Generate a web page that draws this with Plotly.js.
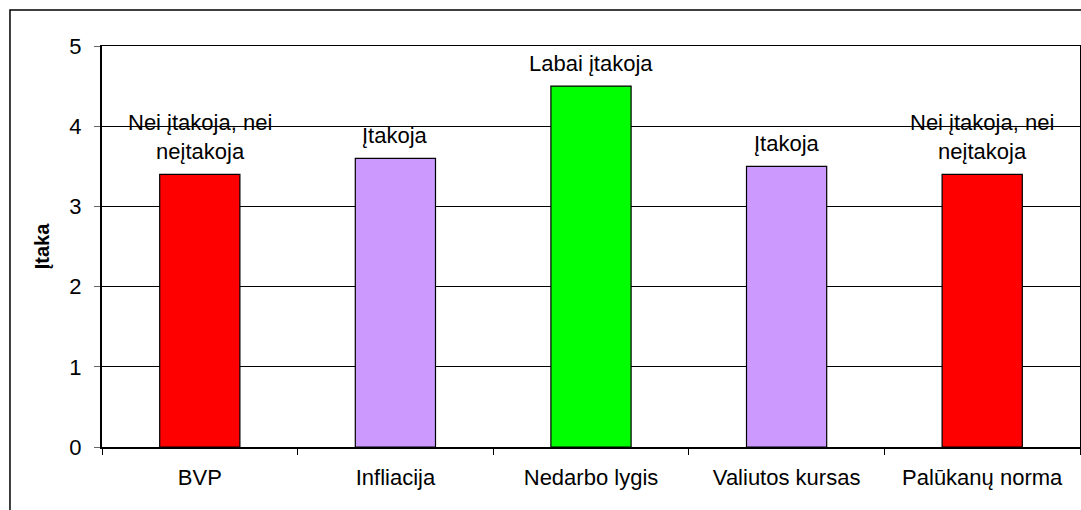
<!DOCTYPE html>
<html>
<head>
<meta charset="utf-8">
<script src="https://cdn.plot.ly/plotly-3.0.1.min.js"></script>
<style>html,body{margin:0;padding:0;background:#fff;}#chart{width:1081px;height:510px;}</style>
</head>
<body>
<div id="chart"></div>
<script>
var categories = ["BVP", "Infliacija", "Nedarbo lygis", "Valiutos kursas", "Palūkanų norma"];
var values = [3.4, 3.6, 4.5, 3.5, 3.4];
var barLabels = ["Nei įtakoja, nei<br>neįtakoja", "Įtakoja", "Labai įtakoja", "Įtakoja", "Nei įtakoja, nei<br>neįtakoja"];
var barColors = ["#FF0000", "#CC99FF", "#00FF00", "#CC99FF", "#FF0000"];
var yTicks = [0, 1, 2, 3, 4, 5];
var yTitle = "Įtaka";

var font = "Liberation Sans, Arial, sans-serif";

var trace = {
  type: "bar",
  x: categories,
  y: values,
  marker: {color: barColors, line: {color: "#000", width: 1.2}},
  width: 0.41,
  hoverinfo: "none"
};

var annotations = categories.map(function (c, i) {
  return {
    x: c, y: values[i], xref: "x", yref: "y",
    text: barLabels[i], showarrow: false,
    xanchor: "center", yanchor: "bottom", yshift: 9,
    font: {family: font, size: 22, color: "#000"},
    bgcolor: "rgba(0,0,0,0)", borderpad: 0
  };
});

var layout = {
  width: 1081,
  height: 510,
  margin: {l: 102, r: 1, t: 46, b: 63, pad: 0},
  paper_bgcolor: "#fff",
  plot_bgcolor: "#fff",
  showlegend: false,
  font: {family: font, size: 22, color: "#000"},
  xaxis: {
    type: "category",
    showline: true, linecolor: "#000", linewidth: 1.5, mirror: true,
    ticks: "outside", tickson: "boundaries", ticklen: 6, tickcolor: "#000", tickwidth: 1,
    ticklabelstandoff: 10,
    showgrid: false,
    tickfont: {family: font, size: 22, color: "#000"}
  },
  yaxis: {
    range: [0, 5],
    tickvals: yTicks,
    ticktext: yTicks.map(String),
    showline: true, linecolor: "#000", linewidth: 2, mirror: true,
    ticks: "outside", ticklen: 6, tickcolor: "#666", tickwidth: 1,
    ticklabelstandoff: 8,
    showgrid: true, gridcolor: "#000", gridwidth: 1,
    zeroline: false,
    tickfont: {family: font, size: 22, color: "#000"},
    title: {text: "<b>" + yTitle + "</b>", font: {family: font, size: 20, color: "#000"}, standoff: 14}
  },
  annotations: annotations,
  shapes: [{
    type: "rect", xref: "paper", yref: "paper",
    x0: -0.0941, x1: 1.01, y0: -0.2, y1: 1.0898,
    line: {color: "#000", width: 1.5}, fillcolor: "rgba(0,0,0,0)", layer: "above"
  }]
};

Plotly.newPlot("chart", [trace], layout, {displayModeBar: false, staticPlot: true});
</script>
</body>
</html>
